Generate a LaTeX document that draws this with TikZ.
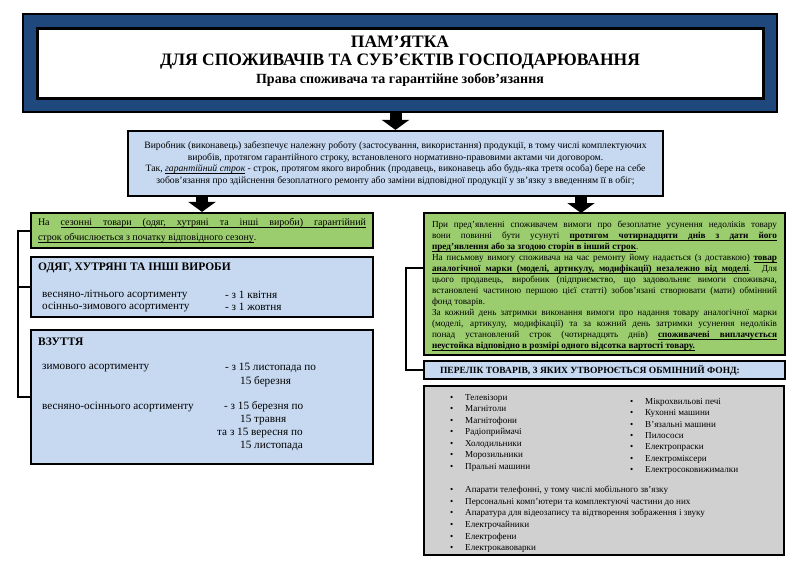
\documentclass[tikz,border=0pt]{standalone}
\usepackage{fontspec}
\setmainfont{Liberation Serif}
\usetikzlibrary{arrows.meta,positioning,calc}

\definecolor{hdrblue}{RGB}{31,73,125}
\definecolor{paleblue}{RGB}{198,217,241}
\definecolor{leafgreen}{RGB}{155,204,110}
\definecolor{boxgrey}{RGB}{208,208,208}
\newcommand{\fsz}[2]{\fontsize{#1}{#2}\selectfont}
\newcommand{\bul}{\makebox[15pt][l]{\textbullet}}
% underline that stretches with justified lines
\newcommand{\ulw}[1]{\setbox0\hbox{#1}\rlap{\rule[-1.6pt]{\wd0}{0.5pt}}\box0}
\newcommand{\ulsp}{\leaders\hrule height -1.1pt depth 1.6pt\hskip\fontdimen2\font plus \fontdimen3\font minus \fontdimen4\font}
\def\uls#1{\ulsloop#1 \relax}
\def\ulsloop#1 #2\relax{\ulw{#1}\ifx\relax#2\relax\else\ulsp\ulsloop#2\relax\fi}

\begin{document}
\begin{tikzpicture}[x=1pt,y=-1pt,
  panel/.style={draw=black,line width=2.2pt,inner sep=0pt},
  bigarrow/.style={line width=12pt,-{Triangle[width=27pt,length=10pt]}},
  bracket/.style={line width=2pt},
  txt/.style={inner sep=0pt},
  body/.style={txt,anchor=west,font=\fsz{11.2}{13}}]
  \useasboundingbox (0,0) rectangle (800,565);
  % header
  \node[panel,fill=hdrblue,minimum width=754pt,minimum height=98pt] (hdr) at (400,63) {};
  \node[panel,fill=white,line width=3pt,minimum width=726pt,minimum height=70pt] (hdrin) at (400,63) {};
  \node[txt,align=center,font=\fsz{17.5}{18}\bfseries] (title) at (400,61)
    {ПАМ’ЯТКА\\
     ДЛЯ СПОЖИВАЧІВ ТА СУБ’ЄКТІВ ГОСПОДАРЮВАННЯ\\
     \fsz{14}{18}\bfseries Права споживача та гарантійне зобов'язання};
  % warranty term
  \node[panel,fill=paleblue,minimum width=535pt,minimum height=65pt,align=center,font=\fsz{9.7}{11.5}] (intro) at (395.5,163.5)
    {Виробник (виконавець) забезпечує належну роботу (застосування, використання) продукції, в тому числі комплектуючих\\
     виробів, протягом гарантійного строку, встановленого нормативно-правовими актами чи договором.\\
     Так, \textit{\uls{гарантійний строк}} - строк, протягом якого виробник (продавець, виконавець або будь-яка третя особа) бере на себе\\
     зобов'язання про здійснення безоплатного ремонту або заміни відповідної продукції у зв'язку з введенням її в обіг;};
  \draw[bigarrow] (hdr.south -| intro.north) -- (intro.north);
  % seasonal goods
  \node[panel,fill=leafgreen,minimum width=342pt,minimum height=35pt] (lgreen) at (202,230.5) {};
  \node[txt,text width=328pt,align=justify,font=\fsz{10}{15}] (lgreentxt) at (lgreen.center)
    {На \uls{сезонні товари (одяг, хутряні та інші вироби) гарантійний}\linebreak
     \uls{строк обчислюється з початку відповідного сезону}.};
  \node[panel,fill=paleblue,minimum width=342pt,minimum height=60pt] (odyah) at (202,287) {};
  \node[txt,anchor=west,font=\fsz{11.5}{13}\bfseries] (odyahhd) at (38,268) {ОДЯГ, ХУТРЯНІ ТА ІНШІ ВИРОБИ};
  \node[body] (odyah1) at (42,295) {весняно-літнього асортименту};
  \node[body] (odyah2) at (42,307) {осінньо-зимового асортименту};
  \node[body] (odyah3) at (225,295) {- з 1 квітня};
  \node[body] (odyah4) at (225,307) {- з 1 жовтня};
  \node[panel,fill=paleblue,minimum width=342pt,minimum height=134pt] (vzut) at (202,397) {};
  \node[txt,anchor=west,font=\fsz{11.5}{13}\bfseries] (vzuthd) at (38,342) {ВЗУТТЯ};
  \node[body] (vzut1) at (42,368) {зимового асортименту};
  \node[body] (vzut2) at (42,407) {весняно-осіннього асортименту};
  \node[body] (vzut3) at (225,368) {- з 15 листопада по};
  \node[body] (vzut4) at (240,382) {15 березня};
  \node[body] (vzut5) at (224,407) {- з 15 березня по};
  \node[body] (vzut6) at (240,420) {15 травня};
  \node[body] (vzut7) at (217,433) {та з 15 вересня по};
  \node[body] (vzut8) at (240,446) {15 листопада};
  \draw[bigarrow] (intro.south -| lgreen.north) -- (lgreen.north);
  \coordinate (lbrk) at (18,0);
  \draw[bracket] (lgreen.west) -| (lbrk |- vzut.west) -- (vzut.west);
  \draw[bracket] (lbrk |- odyah.west) -- (odyah.west);
  % repair and exchange fund
  \node[panel,fill=leafgreen,minimum width=361pt,minimum height=142pt] (rgreen) at (604.5,284) {};
  \node[txt,text width=345pt,align=justify,font=\fsz{9.2}{11}] (rgreentxt) at (604.5,286)
    {При пред'явленні споживачем вимоги про безоплатне усунення недоліків товару\linebreak
     вони повинні бути усунуті \textbf{\uls{протягом чотирнадцяти днів з дати його}}\linebreak
     \textbf{\uls{пред'явлення або за згодою сторін в інший строк}}.\par
     На письмову вимогу споживача на час ремонту йому надається (з доставкою) \textbf{\uls{товар}}\linebreak
     \textbf{\uls{аналогічної марки (моделі, артикулу, модифікації) незалежно від моделі}}. Для\linebreak
     цього продавець, виробник (підприємство, що задовольняє вимоги споживача,\linebreak
     встановлені частиною першою цієї статті) зобов'язані створювати (мати) обмінний\linebreak
     фонд товарів.\par
     За кожний день затримки виконання вимоги про надання товару аналогічної марки\linebreak
     (моделі, артикулу, модифікації) та за кожний день затримки усунення недоліків\linebreak
     понад установлений строк (чотирнадцять днів) \textbf{\uls{споживачеві виплачується}}\linebreak
     \textbf{\uls{неустойка відповідно в розмірі одного відсотка вартості товару.}}};
  \coordinate (rin) at (581,213);
  \draw[bigarrow] (rin |- intro.south) -- (rin);
  \node[panel,fill=paleblue,minimum width=361pt,minimum height=18pt] (perelik) at (604.5,370) {};
  \node[txt,font=\fsz{9.5}{11}\bfseries] (perelikhd) at (590,370) {ПЕРЕЛІК ТОВАРІВ, З ЯКИХ УТВОРЮЄТЬСЯ ОБМІННИЙ ФОНД:};
  \coordinate (rbrk) at (406,268);
  \draw[bracket] (rgreen.west |- rbrk) -- (rbrk) |- (perelik.west);
  % exchange fund list
  \node[panel,fill=boxgrey,minimum width=360pt,minimum height=169pt] (grey) at (604,470.5) {};
  \node[txt,anchor=north west,align=left,font=\fsz{9.1}{11.5}] (listl) at (450,394)
    {\bul Телевізори\\ \bul Магнітоли\\ \bul Магнітофони\\ \bul Радіоприймачі\\
     \bul Холодильники\\ \bul Морозильники\\ \bul Пральні машини};
  \node[txt,anchor=north west,align=left,font=\fsz{9.1}{11.4}] (listr) at (630,398)
    {\bul Мікрохвильові печі\\ \bul Кухонні машини\\ \bul В'язальні машини\\ \bul Пилососи\\
     \bul Електропраски\\ \bul Електроміксери\\ \bul Електросоковижималки};
  \node[txt,anchor=north west,align=left,font=\fsz{9.1}{11.6}] (listb) at (450,486)
    {\bul Апарати телефонні, у тому числі мобільного зв'язку\\
     \bul Персональні комп'ютери та комплектуючі частини до них\\
     \bul Апаратура для відеозапису та відтворення зображення і звуку\\
     \bul Електрочайники\\ \bul Електрофени\\ \bul Електрокавоварки};
\end{tikzpicture}
\end{document}
